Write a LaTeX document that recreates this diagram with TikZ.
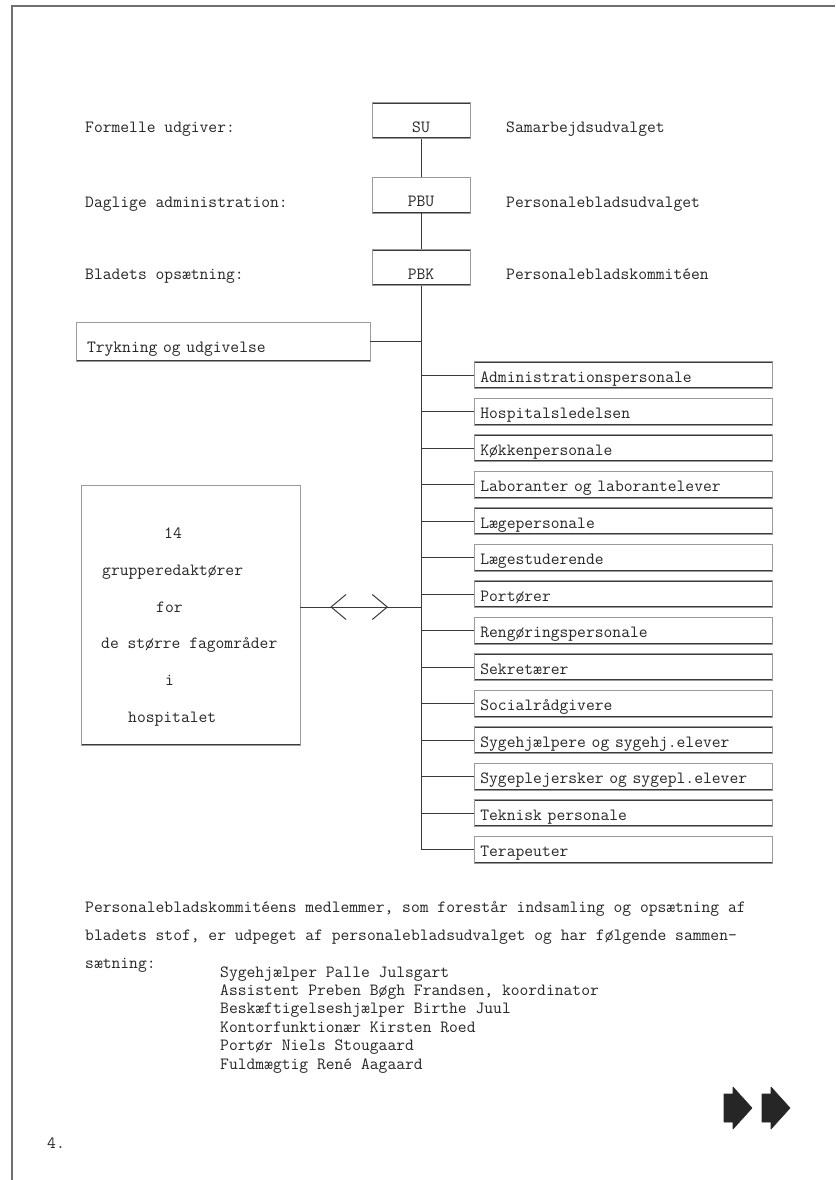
\documentclass[tikz,border=0pt]{standalone}
\usepackage{fontspec}
\usetikzlibrary{decorations.markings,arrows.meta,calc}
\definecolor{ink}{HTML}{262626}
\definecolor{rule}{HTML}{3A3A3A}
\definecolor{ruleside}{HTML}{9A9A9A}
\definecolor{border}{HTML}{707070}
\begin{document}
\begin{tikzpicture}[x=1pt,y=-1pt,
  every node/.style={font=\fontsize{17.1}{20}\ttfamily, text=ink},
  lbl/.style={anchor=west, inner sep=0pt, text height=10pt, text depth=0pt},
  tbbox/.style={draw=ruleside, line width=0.7pt,
    path picture={\draw[rule, line width=2.4pt]
      (path picture bounding box.north west) -- (path picture bounding box.north east)
      (path picture bounding box.south west) -- (path picture bounding box.south east);}},
  topbox/.style={tbbox, minimum width=98pt, minimum height=36pt, inner sep=0pt,
    text height=23pt, text depth=0pt},
  listbox/.style={tbbox, anchor=west, text width=286pt, inner xsep=6pt, inner ysep=0pt,
    minimum height=27pt, align=left, text height=14pt, text depth=0pt},
  conn/.style={draw=rule, line width=1pt},
  chevrons/.style={decoration={markings,
    mark=at position 0.248 with {\arrowreversed{Straight Barb[length=15pt,width=25pt]}},
    mark=at position 0.727 with {\arrow{Straight Barb[length=15pt,width=25pt]}}},
    postaction={decorate}},
  blockarrow/.style={fill=ink, draw=ink, line width=0.6pt, line join=round}
]
\fill[white] (0,0) rectangle (835,1180);
\useasboundingbox (0,0) rectangle (835,1180);

% page edge
\draw[border, line width=1.2pt] (12,1180) -- (12,6) -- (835,6);

% top hierarchy
\node[topbox] (SU)  at (421,120.5) {SU};
\node[topbox] (PBU) at (421,195)   {PBU};
\node[topbox] (PBK) at (421,267.5) {PBK};

\node[lbl] (l1) at (85,127) {Formelle udgiver:};
\node[lbl] (l2) at (85,202) {Daglige administration:};
\node[lbl] (l3) at (85,274) {Bladets opsætning:};

\node[lbl] (r1) at (506,127) {Samarbejdsudvalget};
\node[lbl] (r2) at (506,202) {Personalebladsudvalget};
\node[lbl] (r3) at (506,274) {Personalebladskommitéen};

\draw[conn] (SU) -- (PBU);
\draw[conn] (PBU) -- (PBK);

% printing box
\node[tbbox, text width=272pt, inner xsep=11pt, inner ysep=0pt, minimum height=39pt,
      align=left, text height=21pt, text depth=0pt] (TR) at (223,341.5) {Trykning og udgivelse};

% group list
\foreach \i/\t in {0/Administrationspersonale,1/Hospitalsledelsen,2/Køkkenpersonale,
  3/Laboranter og laborantelever,4/Lægepersonale,5/Lægestuderende,6/Portører,
  7/Rengøringspersonale,8/Sekretærer,9/Socialrådgivere,10/Sygehjælpere og sygehj.elever,
  11/Sygeplejersker og sygepl.elever,12/Teknisk personale,13/Terapeuter}{
  \node[listbox] (B\i) at (474,{375+36.5*\i}) {\t};
  \draw[conn] (B\i.west -| PBK.south) -- (B\i.west);
}

% spine
\coordinate (spineend) at (PBK.south |- B13.west);
\draw[conn] (PBK.south) -- (spineend);
\draw[conn] (TR.east) -- (TR.east -| PBK.south);

% group editors box
\node[tbbox, minimum width=219pt, minimum height=260pt, inner sep=0pt] (GR) at (190.5,615) {};
\node[lbl] (g1) at (164,533) {14};
\node[lbl] (g2) at (102,570) {grupperedaktører};
\node[lbl] (g3) at (156,607) {for};
\node[lbl] (g4) at (101,643) {de større fagområder};
\node[lbl] (g5) at (165,680) {i};
\node[lbl] (g6) at (128,717) {hospitalet};

\draw[conn, chevrons] ([yshift=8pt]GR.east) -- ([yshift=8pt]GR.east -| PBK.south);

% bottom text
\node[lbl] (p1) at (85,907) {Personalebladskommitéens medlemmer, som forestår indsamling og opsætning af};
\node[lbl] (p2) at (85,935) {bladets stof, er udpeget af personalebladsudvalget og har følgende sammen-};
\node[lbl] (p3) at (85,963) {sætning:};

\foreach \i/\t in {0/Sygehjælper Palle Julsgart,1/{Assistent Preben Bøgh Frandsen, koordinator},
  2/Beskæftigelseshjælper Birthe Juul,3/Kontorfunktionær Kirsten Roed,
  4/Portør Niels Stougaard,5/Fuldmægtig René Aagaard}{
  \node[lbl] (m\i) at (220,{972+18.4*\i}) {\t};
}

% page number
\node[lbl] (pg) at (47,1143) {4.};

% next-page arrows
\foreach \dx in {0,38}{
  \filldraw[blockarrow, xshift=\dx pt] (724,1094) -- (733,1094) -- (733,1087) -- (752,1108)
    -- (733,1129) -- (733,1122) -- (724,1122) -- cycle;
}
\end{tikzpicture}
\end{document}
